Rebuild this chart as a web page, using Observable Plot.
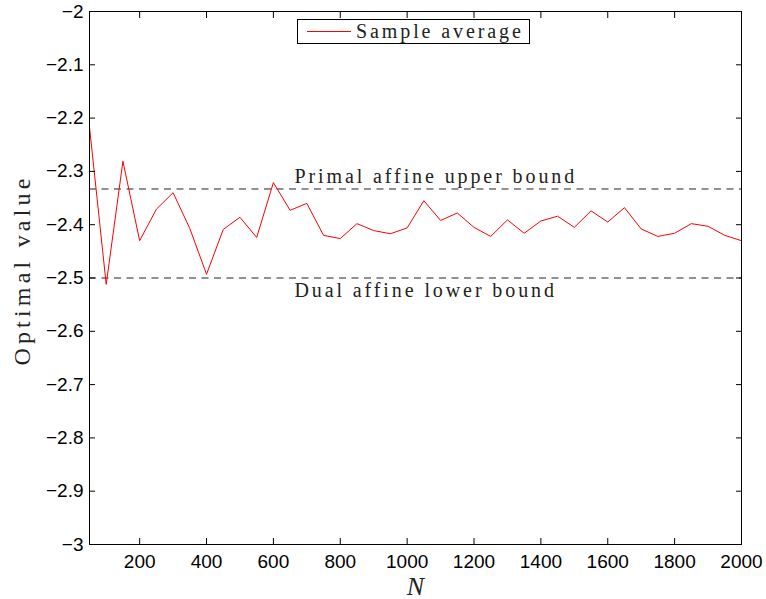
<!DOCTYPE html>
<html><head><meta charset="utf-8">
<script src="https://cdn.jsdelivr.net/npm/d3@7"></script>
<script src="https://cdn.jsdelivr.net/npm/@observablehq/plot@0.6"></script>
<style>
body{margin:0;background:#fff}
#wrap{position:relative;width:766px;height:599px}
#legend{position:absolute;left:297px;top:19px;width:231px;height:23px;border:1px solid #000;background:#fff;display:flex;align-items:center;font-family:"Liberation Serif",serif;font-size:20px;letter-spacing:2.9px;color:#222}
#legend .sw{width:44px;height:0;border-top:1px solid red;margin-left:9px;margin-right:5px}
#ylab{position:absolute;left:22px;top:270px;transform:translate(-50%,-50%) rotate(-90deg);white-space:nowrap;font-family:"Liberation Serif",serif;font-size:24px;letter-spacing:4.2px;color:#222}
</style>
</head><body><div id="wrap"></div>
<script>
const sampleN = [50,100,150,200,250,300,350,400,450,500,550,600,650,700,750,800,850,900,950,1000,1050,1100,1150,1200,1250,1300,1350,1400,1450,1500,1550,1600,1650,1700,1750,1800,1850,1900,1950,2000];
const sampleAverage = [-2.217,-2.512,-2.281,-2.430,-2.371,-2.340,-2.407,-2.493,-2.409,-2.386,-2.424,-2.321,-2.373,-2.360,-2.420,-2.426,-2.398,-2.411,-2.417,-2.406,-2.355,-2.392,-2.378,-2.405,-2.422,-2.391,-2.416,-2.393,-2.384,-2.405,-2.374,-2.395,-2.368,-2.408,-2.422,-2.416,-2.398,-2.403,-2.420,-2.430];
const upperBound = -2.333;
const lowerBound = -2.5;
const boundLabels = ["Primal affine upper bound", "Dual affine lower bound"];
const xTicks = [200,400,600,800,1000,1200,1400,1600,1800,2000];
const yTicks = [-3,-2.9,-2.8,-2.7,-2.6,-2.5,-2.4,-2.3,-2.2,-2.1,-2];
const seriesLabel = "Sample average";
const yLabel = "Optimal value";
const xLabel = "N";

const data = sampleN.map((n,i)=>({N:n, v:sampleAverage[i]}));
const serif = "Liberation Serif";

const chart = Plot.plot({
  width: 766, height: 599,
  marginLeft: 89, marginRight: 25, marginTop: 11, marginBottom: 55,
  style: {fontFamily: "Liberation Sans", fontSize: "19px", background: "white", color: "black"},
  x: {domain: [50, 2000]},
  y: {domain: [-3, -2]},
  marks: [
    Plot.ruleY([upperBound, lowerBound], {stroke: "#222", strokeDasharray: "7,5.5", strokeWidth: 1}),
    Plot.text([boundLabels[0]], {x: 663, y: upperBound, text: d=>d, textAnchor: "start", dy: -12, fontFamily: serif, fontSize: 20, fill: "#222"}),
    Plot.text([boundLabels[1]], {x: 663, y: lowerBound, text: d=>d, textAnchor: "start", dy: 13, fontFamily: serif, fontSize: 20, fill: "#222"}),
    Plot.line(data, {x: "N", y: "v", stroke: "red", strokeWidth: 1}),
    Plot.frame({stroke: "black"}),
    Plot.axisX(xTicks, {anchor: "bottom", tickSize: -6, tickPadding: 16, label: null, tickFormat: d3.format("d")}),
    Plot.axisX(xTicks, {anchor: "top", tickSize: -6, tickFormat: () => "", label: null}),
    Plot.axisY(yTicks, {anchor: "left", tickSize: -6, tickPadding: 12, label: null, tickFormat: d3.format("")}),
    Plot.axisY(yTicks, {anchor: "right", tickSize: -6, tickFormat: () => "", label: null}),
    Plot.text([xLabel], {frameAnchor: "bottom", dy: 50, text: d=>d, fontFamily: serif, fontSize: 26, fontStyle: "italic", fill: "#222"})
  ]
});
chart.querySelectorAll("text").forEach(t => {
  if (boundLabels.includes(t.textContent)) t.style.letterSpacing = "2.9px";
});
const wrap = document.getElementById("wrap");
wrap.appendChild(chart);
const lg = document.createElement("div");
lg.id = "legend";
lg.innerHTML = '<div class="sw"></div><span></span>';
lg.querySelector("span").textContent = seriesLabel;
wrap.appendChild(lg);
const yl = document.createElement("div");
yl.id = "ylab";
yl.textContent = yLabel;
wrap.appendChild(yl);
</script>
</body></html>
